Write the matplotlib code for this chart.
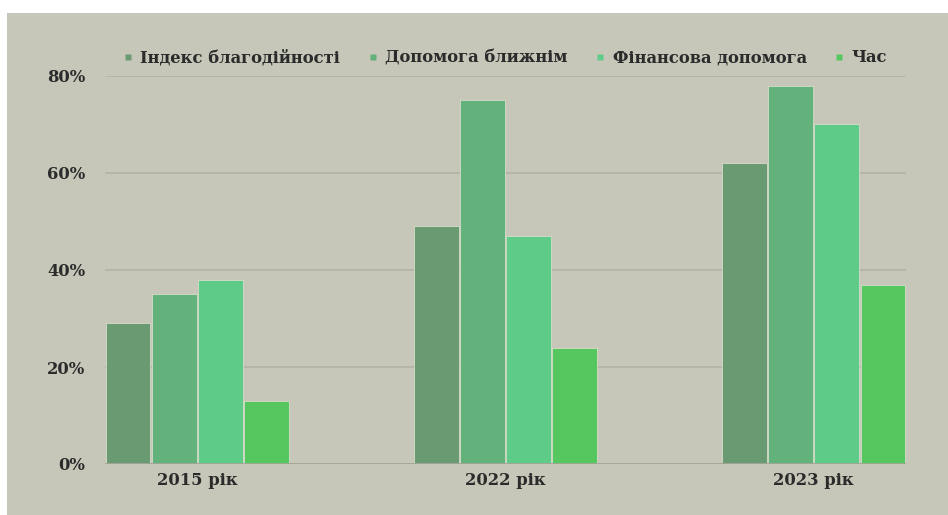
import matplotlib
matplotlib.use("Agg")
import matplotlib.pyplot as plt
import numpy as np
from matplotlib.patches import Rectangle
from matplotlib.lines import Line2D

categories = ["2015 рік", "2022 рік", "2023 рік"]
series_names = ["Індекс благодійності", "Допомога ближнім", "Фінансова допомога", "Час"]
index_vals = [29, 49, 62]
help_vals = [35, 75, 78]
finance_vals = [38, 47, 70]
time_vals = [13, 24, 37]
yticks = [0, 20, 40, 60, 80]
ytick_labels = ["0%", "20%", "40%", "60%", "80%"]

series = [index_vals, help_vals, finance_vals, time_vals]
colors = ["#6a9a72", "#63b17b", "#5ecb89", "#56c75f"]
bg = "#c6c7b8"
txt = "#2b2b2b"

W, H = 948, 515
fig = plt.figure(figsize=(W / 100, H / 100), dpi=100, facecolor="white")
fig.patches.append(Rectangle((7 / W, 0), 1 - 7 / W, 1 - 13 / H, transform=fig.transFigure,
                             facecolor=bg, edgecolor="none", zorder=-10))

left, right = 105 / W, 906 / W
bottom, top = (H - 464) / H, (H - 76) / H
ax = fig.add_axes([left, bottom, right - left, top - bottom])
ax.set_facecolor("none")

x = np.arange(len(categories))
pitch = 0.1500
width = 0.145
for i, vals in enumerate(series):
    ax.bar(x + (i - 1.5) * pitch, vals, width=width, color=colors[i],
           edgecolor="#d6dcca", linewidth=0.6, zorder=3, label=series_names[i])

ax.set_xlim(-0.30, 2.30)
ax.set_ylim(0, 80)
ax.set_yticks(yticks)
ax.set_yticklabels(ytick_labels)
ax.set_xticks(x)
ax.set_xticklabels(categories)
for y in yticks[1:]:
    ax.axhline(y, color="#b4b5a6", linewidth=1.3, zorder=1)
ax.axhline(0, color="#a3a496", linewidth=1.3, zorder=4)

for s in ax.spines.values():
    s.set_visible(False)
ax.tick_params(axis="both", length=0)
ax.tick_params(axis="y", pad=14)
ax.tick_params(axis="x", pad=6)
for lab in ax.get_yticklabels() + ax.get_xticklabels():
    lab.set_fontfamily("DejaVu Serif")
    lab.set_fontweight("bold")
    lab.set_fontsize(11.8)
    lab.set_color(txt)

handles = [Line2D([], [], linestyle="none", marker="s", markersize=4,
                  markerfacecolor=c, markeredgecolor="none") for c in colors]
leg = fig.legend(handles, series_names, loc="center", bbox_to_anchor=(505 / W, 1 - 58 / H),
                 ncol=4, frameon=False, handlelength=0.6, handletextpad=0.45,
                 columnspacing=1.7, prop={"family": "DejaVu Serif", "weight": "bold", "size": 11.8})
for t in leg.get_texts():
    t.set_color(txt)

fig.savefig("out.png", dpi=100, facecolor="white")
